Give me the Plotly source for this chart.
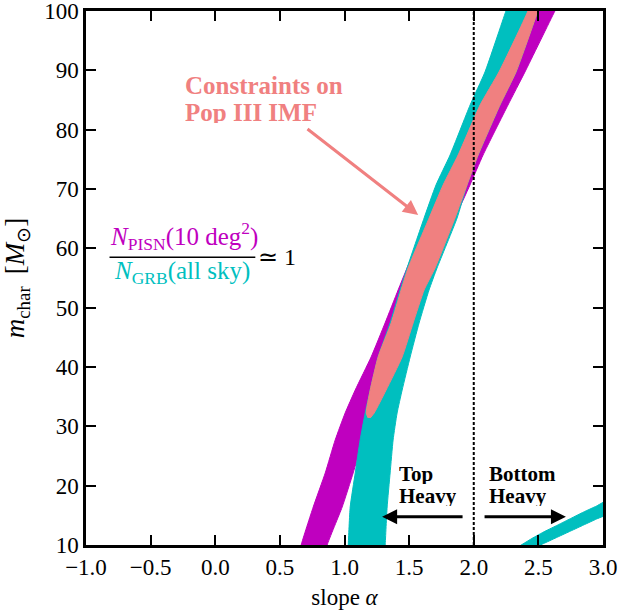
import plotly.graph_objects as go

# ---------------- data ----------------
# m_char levels at which the band edges were read
band_m = [8.0, 10.0, 16.40, 22.14, 27.70, 32.25, 36.12, 41.69, 47.42, 52.98, 56.69,
          65.11, 70.68, 75.73, 84.16, 89.72, 100.0, 103.0]

# Magenta band: N_PISN(10 deg^2) condition (edges in slope alpha)
mag_xl = [0.650, 0.665, 0.758, 0.851, 0.928, 1.005, 1.083, 1.206, 1.314, 1.415, 1.484,
          1.647, 1.763, 1.879, 2.049, 2.195, 2.443, 2.52]
mag_xr = [0.850, 0.866, 0.982, 1.067, 1.144, 1.222, 1.322, 1.446, 1.531, 1.616, 1.701,
          1.855, 1.971, 2.072, 2.265, 2.396, 2.628, 2.70]

# Cyan band: N_GRB(all sky) condition, main branch
cyn_xl = [1.025, 1.029, 1.044, 1.083, 1.121, 1.160, 1.199, 1.260, 1.353, 1.430, 1.484,
          1.616, 1.708, 1.817, 1.972, 2.087, 2.249, 2.30]
cyn_xr = [1.312, 1.315, 1.330, 1.353, 1.376, 1.407, 1.446, 1.508, 1.577, 1.654, 1.716,
          1.871, 1.948, 2.034, 2.203, 2.327, 2.496, 2.55]

# Cyan band, lower-right branch (edges in m_char along alpha)
cyn2_x  = [2.36, 2.45, 2.55, 2.65, 2.75, 2.85, 2.95, 3.05]
cyn2_lo = [8.15, 9.33, 10.34, 11.35, 12.36, 13.37, 14.38, 15.39]
cyn2_hi = [9.90, 11.10, 12.30, 13.37, 14.47, 15.56, 16.57, 17.67]

# Overlap region: constraints on Pop III IMF
pnk_m  = [31.41, 32.25, 36.12, 41.69, 47.42, 52.98, 56.69, 65.11, 70.68, 75.73, 84.16, 89.72, 100.0, 103.0]
pnk_xl = [1.183, 1.168, 1.199, 1.260, 1.361, 1.438, 1.492, 1.655, 1.763, 1.879, 2.049, 2.195, 2.419, 2.46]
pnk_xr = [1.199, 1.230, 1.322, 1.446, 1.531, 1.616, 1.701, 1.855, 1.948, 2.034, 2.203, 2.327, 2.496, 2.54]

x_ticks = [-1.0, -0.5, 0.0, 0.5, 1.0, 1.5, 2.0, 2.5, 3.0]
y_ticks = [10, 20, 30, 40, 50, 60, 70, 80, 90, 100]

MAG = "#bf00bf"
CYN = "#00bfbf"
PNK = "#f08080"
SERIF = "Liberation Serif"

fig = go.Figure()


def band_y(y, xl, xr, color):
    fig.add_trace(go.Scatter(
        x=list(xl) + list(xr)[::-1], y=list(y) + list(y)[::-1],
        mode="lines", fill="toself", fillcolor=color,
        line=dict(color=color, width=1, shape="spline", smoothing=0.5),
        hoverinfo="skip", showlegend=False))


def band_x(x, lo, hi, color):
    fig.add_trace(go.Scatter(
        x=list(x) + list(x)[::-1], y=list(lo) + list(hi)[::-1],
        mode="lines", fill="toself", fillcolor=color,
        line=dict(color=color, width=1, shape="spline", smoothing=0.5),
        hoverinfo="skip", showlegend=False))


band_y(band_m, mag_xl, mag_xr, MAG)
band_y(band_m, cyn_xl, cyn_xr, CYN)
band_x(cyn2_x, cyn2_lo, cyn2_hi, CYN)
band_y(pnk_m, pnk_xl, pnk_xr, PNK)

# dashed vertical line at alpha = 2
fig.add_shape(type="line", x0=2.0, x1=2.0, y0=10, y1=100, xref="x", yref="y",
              line=dict(color="black", width=2, dash="3px,2px"))

# fraction bar
fig.add_shape(type="line", x0=-0.818, x1=0.310, y0=58.5, y1=58.5, xref="x", yref="y",
              line=dict(color="black", width=1.5))

ann = []
ann.append(dict(x=-0.25, y=87.6, text="<b>Constraints on</b>", showarrow=False, height=22,
                xanchor="left", yanchor="middle", font=dict(family=SERIF, size=25, color=PNK)))
ann.append(dict(x=-0.25, y=83.0, text="<b>Pop III IMF</b>", showarrow=False, height=22,
                xanchor="left", yanchor="middle", font=dict(family=SERIF, size=25, color=PNK)))
# pink arrow
ann.append(dict(x=1.570, y=65.6, ax=0.702, ay=80.3, xref="x", yref="y", axref="x", ayref="y",
                text="", showarrow=True, arrowhead=2, arrowsize=1, arrowwidth=3, arrowcolor=PNK))

# fraction
ann.append(dict(x=-0.239, y=62.1, text="<i>N</i><sub>PISN</sub>(10 deg<sup>2</sup>)", showarrow=False,
                xanchor="center", yanchor="middle", font=dict(family=SERIF, size=25, color=MAG)))
ann.append(dict(x=-0.254, y=55.9, text="<i>N</i><sub>GRB</sub>(all sky)", showarrow=False,
                xanchor="center", yanchor="middle", font=dict(family=SERIF, size=25, color=CYN)))
ann.append(dict(x=0.316, y=58.6, text="≃ 1", showarrow=False,
                xanchor="left", yanchor="middle", font=dict(family=SERIF, size=24, color="black")))

# Top / Bottom heavy labels
for xx, word in [(1.407, "Top"), (2.102, "Bottom")]:
    ann.append(dict(x=xx, y=21.9, text="<b>%s</b>" % word, showarrow=False, height=20,
                    xanchor="left", yanchor="middle", font=dict(family=SERIF, size=21, color="black")))
    ann.append(dict(x=xx, y=18.2, text="<b>Heavy</b>", showarrow=False, height=20,
                    xanchor="left", yanchor="middle", font=dict(family=SERIF, size=21, color="black")))

ann.append(dict(x=1.291, y=14.77, ax=1.925, ay=14.77, xref="x", yref="y", axref="x", ayref="y",
                text="", showarrow=True, arrowhead=2, arrowsize=1, arrowwidth=3, arrowcolor="black"))
ann.append(dict(x=2.713, y=14.77, ax=2.072, ay=14.77, xref="x", yref="y", axref="x", ayref="y",
                text="", showarrow=True, arrowhead=2, arrowsize=1, arrowwidth=3, arrowcolor="black"))

axis_common = dict(showgrid=False, zeroline=False, showline=True, linecolor="black", linewidth=2.5,
                   ticks="inside", ticklen=10, tickwidth=2, tickcolor="black", mirror="ticks",
                   automargin=False, ticklabeloverflow="allow",
                   tickfont=dict(family=SERIF, size=23, color="black"))

fig.update_layout(
    width=620, height=611,
    margin=dict(l=86, r=17, t=11, b=66),
    paper_bgcolor="white", plot_bgcolor="white",
    showlegend=False,
    annotations=ann,
    xaxis=dict(range=[-1, 3], tickvals=x_ticks, ticktext=[("%.1f" % v).replace("-", "\u2212") for v in x_ticks],
               title=dict(text="slope <i>α</i>", font=dict(family=SERIF, size=23, color="black"), standoff=10),
               **axis_common),
    yaxis=dict(range=[10, 100], tickvals=y_ticks, ticktext=[str(v) for v in y_ticks],
               title=dict(text="<i>m</i><sub>char</sub>\u2009 [<i>M</i><sub>⊙</sub>]",
                          font=dict(family=SERIF, size=27, color="black"), standoff=18),
               **axis_common),
)

fig.write_html("out.html")
